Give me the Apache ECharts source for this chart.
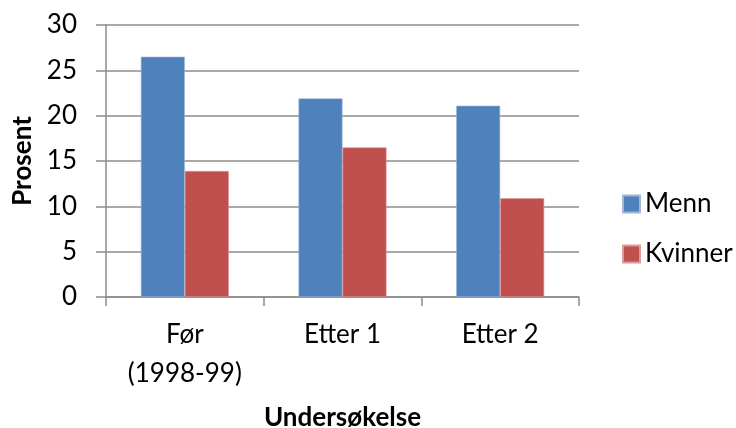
<!DOCTYPE html>
<html>
<head>
<meta charset="utf-8">
<script src="https://cdn.jsdelivr.net/npm/echarts@6/dist/echarts.min.js"></script>
<style>
  html, body { margin: 0; padding: 0; background: #fff; }
  #chart { width: 736px; height: 428px; }
</style>
</head>
<body>
<div id="chart"></div>
<script>
// Survey rounds and share (percent) per sex
const categories = ['Før\n(1998-99)', 'Etter 1', 'Etter 2'];
const menn = [26.5, 21.9, 21.1];
const kvinner = [13.9, 16.5, 10.9];
const seriesNames = ['Menn', 'Kvinner'];
const yTicks = [0, 5, 10, 15, 20, 25, 30];

const FONT = 'Lato, "Open Sans", sans-serif';
const FONT_SIZE = 26;
const AXIS_GRAY = '#8c8c8c';

const chart = echarts.init(document.getElementById('chart'), null, { renderer: 'canvas' });

chart.setOption({
  animation: false,
  backgroundColor: '#ffffff',
  textStyle: { fontFamily: FONT, color: '#000' },
  grid: {
    left: 106, right: 157, top: 25, bottom: 131,
    containLabel: false,
    outerBoundsMode: 'none'
  },
  legend: {
    orient: 'vertical',
    left: 617,
    top: 186,
    itemWidth: 17,
    itemHeight: 17,
    itemGap: 24,
    icon: 'rect',
    data: seriesNames,
    textStyle: { fontFamily: FONT, fontSize: FONT_SIZE, color: '#000' }
  },
  xAxis: {
    type: 'category',
    data: categories,
    name: 'Undersøkelse',
    nameLocation: 'middle',
    nameGap: 108,
    nameTextStyle: { fontFamily: FONT, fontSize: FONT_SIZE, fontWeight: 'bold', color: '#000' },
    axisLine: { show: true, lineStyle: { color: AXIS_GRAY, width: 1.5 } },
    axisTick: { show: true, alignWithLabel: false, length: 9, lineStyle: { color: AXIS_GRAY, width: 1.5 } },
    axisLabel: { fontFamily: FONT, fontSize: FONT_SIZE, color: '#000', margin: 18, lineHeight: 39 },
    splitLine: { show: false }
  },
  yAxis: {
    type: 'value',
    min: yTicks[0],
    max: yTicks[yTicks.length - 1],
    interval: 5,
    name: 'Prosent',
    nameLocation: 'middle',
    nameGap: 70,
    nameRotate: 90,
    nameTextStyle: { fontFamily: FONT, fontSize: FONT_SIZE, fontWeight: 'bold', color: '#000' },
    axisLine: { show: true, lineStyle: { color: AXIS_GRAY, width: 1.5 } },
    axisTick: { show: true, inside: false, length: 10, lineStyle: { color: AXIS_GRAY, width: 1.5 } },
    axisLabel: { fontFamily: FONT, fontSize: FONT_SIZE, color: '#000', margin: 29 },
    splitLine: { show: true, lineStyle: { color: AXIS_GRAY, width: 1.5 } }
  },
  series: [
    {
      name: seriesNames[0],
      type: 'bar',
      data: menn,
      barWidth: 44,
      barGap: '0%',
      itemStyle: { color: '#4F81BD', borderColor: '#9fb8da', borderWidth: 0.6 }
    },
    {
      name: seriesNames[1],
      type: 'bar',
      data: kvinner,
      barWidth: 44,
      barGap: '0%',
      itemStyle: { color: '#C0504D', borderColor: '#dc9a98', borderWidth: 0.6 }
    }
  ]
});
</script>
</body>
</html>
